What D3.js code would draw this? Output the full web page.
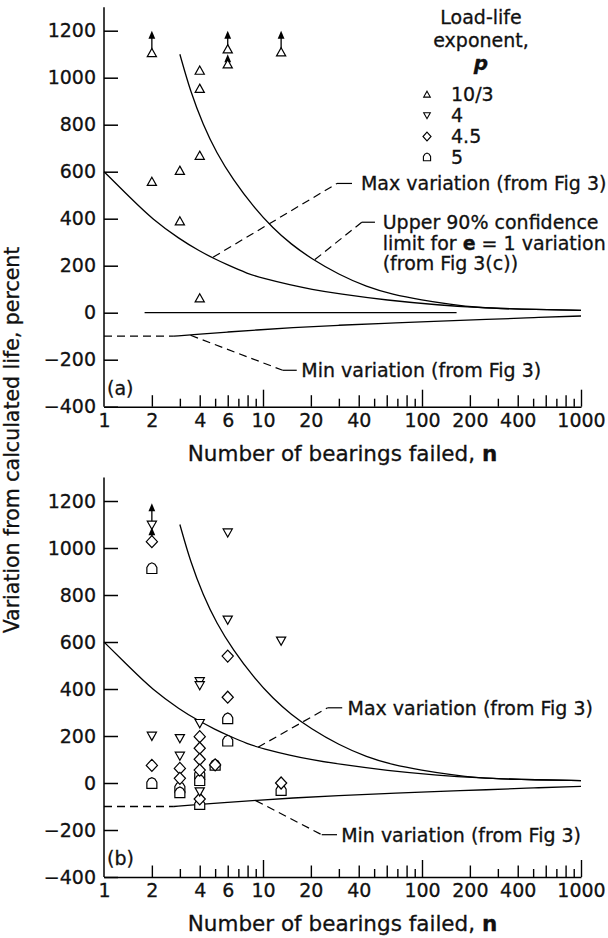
<!DOCTYPE html>
<html><head><meta charset="utf-8">
<script src="https://cdn.jsdelivr.net/npm/d3@7"></script>
<style>
body{margin:0;background:#fff;}
text{font-family:"DejaVu Sans",sans-serif;fill:#111;stroke:#111;stroke-width:0.3px;}
</style>
</head><body>
<svg id="c" width="608" height="938"></svg>
<script>
// ---------------- data ----------------
const xTickLabels = [1, 2, 4, 6, 10, 20, 40, 100, 200, 400, 1000];
const yTickLabels = [-400, -200, 0, 200, 400, 600, 800, 1000, 1200];

// curves
const maxN = [3, 3.5, 4.2, 5.1, 6.5, 8.7, 11.6, 15, 20, 30, 45, 65, 100, 150, 220, 400, 1000];
const maxV = [1100, 940, 800, 680, 565, 451, 358, 292, 231, 162, 110, 78, 54, 36, 22, 15, 10];
const conf90N = [1, 1.5, 2, 3, 4, 5, 6, 8, 10, 15, 20, 30, 60, 130, 220, 400, 1000];
const conf90V = [600, 482, 400, 312, 262, 228, 203, 166, 146, 117, 100, 80, 53, 32, 22, 15, 10];
const minDashN = [1, 2.75];
const minDashV = [-100, -100];
const minN = [2.75, 4, 6, 9, 15, 30, 60, 100, 270, 500, 1000];
const minV = [-100, -91, -82, -74, -64, -53, -45, -39, -28, -21, -14];
const zeroLineN = [1.8, 165];
const zeroLineV = [0, 0];

// panel (a): p = 10/3
const aTriN = [2, 2, 3, 3, 4, 4, 4, 4, 6, 6, 13];
const aTriV = [1105, 557, 604, 389, 1030, 953, 668, 61, 1121, 1057, 1108];
const aArrowN = [2, 6, 6, 13];
const aArrowFrom = [1105, 1121, 1057, 1108];
const aArrowTo = [1200, 1200, 1100, 1200];

// panel (b): p = 4, 4.5, 5
const bP4N = [2, 2, 3, 3, 4, 4, 4, 4, 6, 6, 13];
const bP4V = [1098, 200, 190, 115, 432, 415, 254, -37, 1065, 694, 605];
const bP45N = [2, 2, 3, 3, 4, 4, 4, 4, 4, 5, 6, 6, 13];
const bP45V = [1027, 75, 62, 20, 197, 148, 101, 55, -68, 77, 540, 365, 0];
const bP5N = [2, 2, 3, 3, 4, 4, 4, 5, 6, 6, 13];
const bP5V = [914, 0, -18, -40, 38, 12, -90, 77, 275, 180, -30];
const bArrowN = [2, 2];
const bArrowFrom = [1098, 1027];
const bArrowTo = [1190, 1088];

const legendLabels = ["10/3", "4", "4.5", "5"];
const legendSymbols = ["up", "down", "diamond", "house"];

// ---------------- layout ----------------
const svg = d3.select("#c");
const x = d3.scaleLog().domain([1, 1000]).range([104, 581]);
const yA = d3.scaleLinear().domain([-400, 1300]).range([406.7, 7.2]);
const yB = d3.scaleLinear().domain([-400, 1300]).range([877, 477.5]);

function symPath(t, s) {
  s = s || 1;
  const P = {
    up: [[0,-4.6],[4.6,3.6],[-4.6,3.6]],
    down: [[-4.6,-3.8],[4.6,-3.8],[0,4.4]],
    diamond: [[0,-6],[5.6,0],[0,6],[-5.6,0]],
    house: [[-5,5.3],[-5,-0.8],[-3,-4],[0,-5.4],[3,-4],[5,-0.8],[5,5.3]]
  }[t];
  return "M" + P.map(p => (p[0]*s).toFixed(2) + "," + (p[1]*s).toFixed(2)).join("L") + "Z";
}

const fmt = d => d < 0 ? "\u2212" + Math.abs(d) : String(d);
const line = y => d3.line().x(d => x(d[0])).y(d => y(d[1])).curve(d3.curveBasis);
const straight = y => d3.line().x(d => x(d[0])).y(d => y(d[1]));

function drawPanel(y, opt) {
  const g = svg.append("g");
  // Y axis
  const ya = g.append("g").attr("transform", "translate(104,0)")
    .call(d3.axisLeft(y).tickValues(yTickLabels).tickSizeInner(-14).tickSizeOuter(0).tickPadding(8).tickFormat(fmt));
  ya.selectAll("text").attr("font-size", 19).attr("font-family", "DejaVu Sans").attr("fill", "#111");
  ya.selectAll("line,path").attr("stroke", "#000").attr("stroke-width", 1.5);
  ya.select(".domain").attr("d", `M0,${y(-400)}V${y(1300)}`);
  // X axis
  const y0 = y.range()[0];
  const xa = g.append("g").attr("transform", `translate(0,${y0})`)
    .call(d3.axisBottom(x).tickValues(xTickLabels).tickSize(0).tickPadding(6.5).tickFormat(d => String(d)));
  xa.selectAll("text").attr("font-size", 19).attr("font-family", "DejaVu Sans").attr("fill", "#111");
  xa.select(".domain").attr("stroke", "#000").attr("stroke-width", 1.5);
  const decades = [1, 10, 100];
  const major = [10, 100, 1000];
  const even = [], odd = [];
  decades.forEach(dc => { [2,4,6,8].forEach(m => even.push(dc*m)); [3,5,7,9].forEach(m => odd.push(dc*m)); });
  [[major, 17], [even, 11.5], [odd, 8]].forEach(([vals, len]) => {
    const t = g.append("g").attr("transform", `translate(0,${y0})`)
      .call(d3.axisBottom(x).tickValues(vals).tickSizeInner(-len).tickSizeOuter(0).tickFormat(""));
    t.select(".domain").remove();
    t.selectAll("line").attr("stroke", "#000").attr("stroke-width", 1.4);
  });
  // curves
  const cg = g.append("g").attr("fill", "none").attr("stroke", "#000").attr("stroke-width", 1.3);
  cg.append("path").attr("d", line(y)(d3.zip(maxN, maxV)));
  cg.append("path").attr("d", line(y)(d3.zip(conf90N, conf90V)));
  cg.append("path").attr("d", line(y)(d3.zip(minN, minV)));
  cg.append("path").attr("d", straight(y)(d3.zip(minDashN, minDashV))).attr("stroke-dasharray", "8,5");
  if (opt.zero) cg.append("path").attr("d", straight(y)(d3.zip(zeroLineN, zeroLineV)));
  // panel tag
  g.append("text").attr("x", 107).attr("y", y0 - 18.5).attr("dy", "0.365em").attr("font-size", 19).text(opt.tag);
  return g;
}

const gA = drawPanel(yA, {zero: true, tag: "(a)"});
const gB = drawPanel(yB, {zero: false, tag: "(b)"});

function points(g, y, ns, vs, t) {
  g.append("g").selectAll("path").data(d3.zip(ns, vs)).join("path")
    .attr("transform", d => `translate(${x(d[0])},${y(d[1])})`)
    .attr("d", symPath(t)).attr("fill", "#fff").attr("stroke", "#000").attr("stroke-width", 1.2);
}
function arrows(g, y, ns, from, to) {
  const d = d3.zip(ns, from, to);
  const ag = g.append("g");
  ag.selectAll("line").data(d).join("line")
    .attr("x1", e => x(e[0])).attr("x2", e => x(e[0]))
    .attr("y1", e => y(e[1]) - 4).attr("y2", e => y(e[2]) + 6)
    .attr("stroke", "#000").attr("stroke-width", 1.3);
  ag.selectAll("path").data(d).join("path")
    .attr("transform", e => `translate(${x(e[0])},${y(e[2])})`)
    .attr("d", "M0,0L3.4,8L-3.4,8Z").attr("fill", "#000");
}

// panel a marks
arrows(gA, yA, aArrowN, aArrowFrom, aArrowTo);
points(gA, yA, aTriN, aTriV, "up");
// panel b marks
arrows(gB, yB, bArrowN, bArrowFrom, bArrowTo);
points(gB, yB, bP5N, bP5V, "house");
points(gB, yB, bP45N, bP45V, "diamond");
points(gB, yB, bP4N, bP4V, "down");

// annotations
function annot(g, y, dashed, solid, at, lines, gap) {
  g.append("path").attr("d", straight(y)(dashed)).attr("fill", "none").attr("stroke", "#000")
    .attr("stroke-width", 1.2).attr("stroke-dasharray", "8,5");
  g.append("path").attr("d", straight(y)(solid)).attr("fill", "none").attr("stroke", "#000").attr("stroke-width", 1.2);
  lines.forEach((ln, i) => {
    const t = g.append("text").attr("x", x(at[0])).attr("y", y(at[1]) + i * (gap || 21)).attr("dy", "0.365em").attr("font-size", 19);
    ln.forEach(seg => {
      const s = t.append("tspan").text(seg.t);
      if (seg.b) s.attr("font-weight", "bold");
    });
  });
}
annot(gA, yA, [[4.85, 236], [29.2, 550]], [[29.2, 550], [36.3, 550]], [41.3, 550],
  [[{t: "Max variation (from Fig 3)"}]]);
annot(gA, yA, [[21.2, 226], [41.8, 385]], [[41.8, 385], [50.6, 385]], [56.6, 385],
  [[{t: "Upper 90% confidence"}], [{t: "limit for "}, {t: "e", b: true}, {t: " = 1 variation"}], [{t: "(from Fig 3(c))"}]], 20.5);
annot(gA, yA, [[3.5, -96], [13.3, -245]], [[13.3, -245], [16.3, -245]], [17.4, -246],
  [[{t: "Min variation (from Fig 3)"}]]);
annot(gB, yB, [[9.3, 152], [25.5, 320]], [[25.5, 320], [31.5, 320]], [34, 320],
  [[{t: "Max variation (from Fig 3)"}]]);
annot(gB, yB, [[9.0, -75], [23.4, -220]], [[23.4, -220], [29.2, -220]], [31, -222],
  [[{t: "Min variation (from Fig 3)"}]]);

// axis titles
[453, 923].forEach(cy => {
  const t = svg.append("text").attr("x", 342.5).attr("y", cy).attr("dy", "0.365em")
    .attr("text-anchor", "middle").attr("font-size", 21.5);
  t.append("tspan").text("Number of bearings failed, ");
  t.append("tspan").attr("font-weight", "bold").text("n");
});
svg.append("text").attr("transform", "translate(18.5,440) rotate(-90)").attr("text-anchor", "middle")
  .attr("font-size", 20.5).text("Variation from calculated life, percent");

// legend
const lg = svg.append("g");
[["Load-life", 17], ["exponent,", 40]].forEach(([s, cy]) =>
  lg.append("text").attr("x", 481).attr("y", cy).attr("dy", "0.365em").attr("text-anchor", "middle").attr("font-size", 19).text(s));
lg.append("text").attr("x", 481).attr("y", 63).attr("dy", "0.365em").attr("text-anchor", "middle")
  .attr("font-size", 20).attr("font-weight", "bold").attr("font-style", "italic").text("p");
const rowY = [94.5, 115.5, 136.5, 157];
legendLabels.forEach((s, i) => {
  lg.append("path").attr("transform", `translate(427,${rowY[i]})`).attr("d", symPath(legendSymbols[i], 0.72))
    .attr("fill", "#fff").attr("stroke", "#000").attr("stroke-width", 1.1);
  lg.append("text").attr("x", 451).attr("y", rowY[i]).attr("dy", "0.365em").attr("font-size", 19).text(s);
});
</script>
</body></html>
